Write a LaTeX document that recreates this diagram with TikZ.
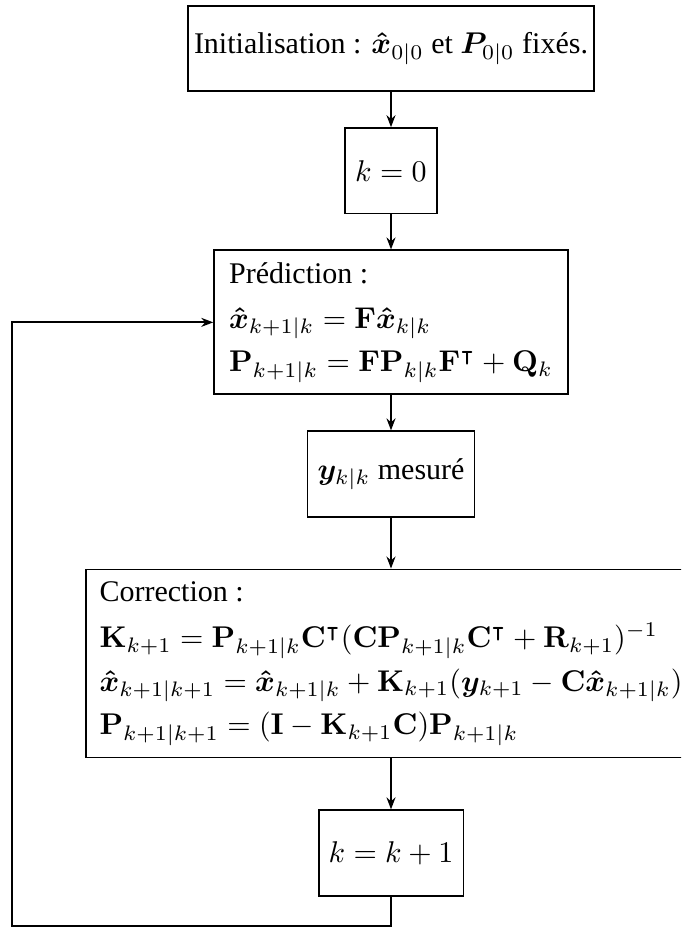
\documentclass[tikz,border=0pt]{standalone}
\usepackage{amsmath, amssymb, bm}
\usepackage[no-math]{fontspec}
\setmainfont{Liberation Serif}
\usetikzlibrary{arrows.meta, positioning}

\begin{document}
\begin{tikzpicture}[x=1pt, y=1pt, node distance=11.7pt,
  bloc/.style={draw, semithick, minimum height=1cm},
  fleche/.style={semithick, -{Stealth[length=4pt, width=3pt]}}]
\useasboundingbox (0,0) rectangle (227,-309.33);
\clip (0,0) rectangle (227,-309.33);
\node[bloc, inner xsep=2pt] (init) at (130.33,-16.17) {Initialisation : $\bm{\hat{x}}_{0|0}$ et $\bm{P}_{0|0}$ fixés.};
\node[bloc, below=of init] (kzero) {$k=0$};
\node[bloc, below=of kzero, align=left, inner xsep=5pt, inner ysep=4pt] (pred) {Prédiction :\\[3pt]
  $\bm{\hat{x}}_{k+1|k} = \mathbf{F}\bm{\hat{x}}_{k|k}$\\[2.5pt]
  $\mathbf{P}_{k+1|k} = \mathbf{F}\mathbf{P}_{k|k}\mathbf{F}^\intercal + \mathbf{Q}_k$};
\node[bloc, below=of pred] (mes) {$\bm{y}_{k|k}$ mesuré};
\node[bloc, below=17pt of mes, align=left, inner xsep=4.5pt, inner ysep=4pt] (corr) {Correction :\\[3.5pt]
  $\mathbf{K}_{k+1} = \mathbf{P}_{k+1|k}\mathbf{C}^\intercal(\mathbf{C}\mathbf{P}_{k+1|k}\mathbf{C}^\intercal + \mathbf{R}_{k+1})^{-1}$\\[2.5pt]
  $\bm{\hat{x}}_{k+1|k+1} = \bm{\hat{x}}_{k+1|k} + \mathbf{K}_{k+1}(\bm{y}_{k+1} - \mathbf{C}\bm{\hat{x}}_{k+1|k})$\\[2.5pt]
  $\mathbf{P}_{k+1|k+1} = (\mathbf{I} - \mathbf{K}_{k+1}\mathbf{C})\mathbf{P}_{k+1|k}$};
\node[bloc, below=17pt of corr] (incr) {$k=k+1$};
\coordinate (retour) at (4,-308.67);
% liaisons
\draw[fleche] (init) -- (kzero);
\draw[fleche] (kzero) -- (pred);
\draw[fleche] (pred) -- (mes);
\draw[fleche] (mes) -- (corr);
\draw[fleche] (corr) -- (incr);
\draw[fleche] (incr.south) |- (retour) |- (pred.west);
\end{tikzpicture}
\end{document}
